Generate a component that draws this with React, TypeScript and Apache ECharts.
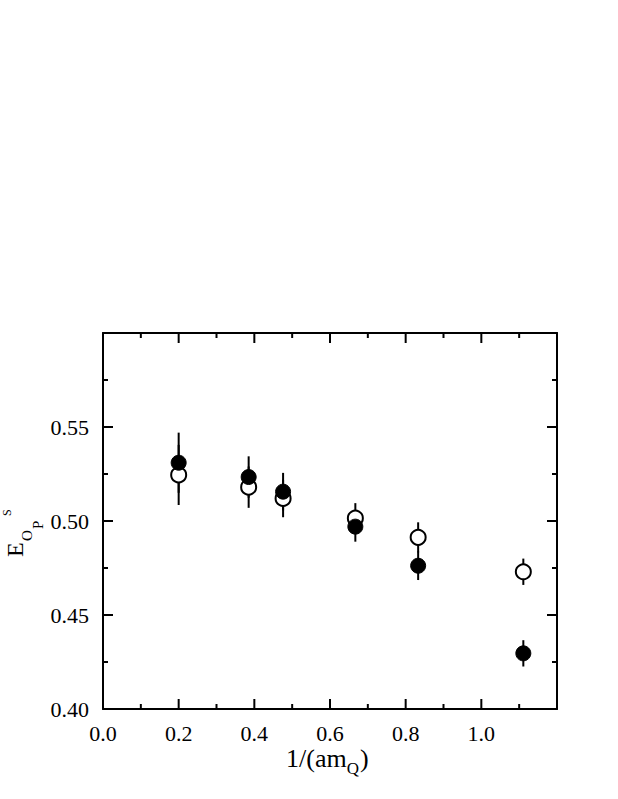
import React, { useEffect, useRef } from "react";
import * as echarts from "echarts";

const invMass = [0.2, 0.385, 0.476, 0.667, 0.833, 1.111];
const openValues = [0.5245, 0.518, 0.512, 0.5015, 0.4913, 0.473];
const openErrors = [0.016, 0.011, 0.01, 0.008, 0.008, 0.007];
const filledValues = [0.531, 0.5234, 0.5156, 0.497, 0.4762, 0.4296];
const filledErrors = [0.016, 0.011, 0.01, 0.008, 0.0076, 0.007];

const xMajorTicks = [0.2, 0.4, 0.6, 0.8, 1.0];
const xMinorTicks = [0.1, 0.3, 0.5, 0.7, 0.9, 1.1];
const yMajorTicks = [0.45, 0.5, 0.55];
const yMinorTicks = [0.425, 0.475, 0.525, 0.575];

const X_MIN = 0;
const X_MAX = 1.2;
const Y_MIN = 0.4;
const Y_MAX = 0.6;

const FONT = "Liberation Serif";
const MAJOR_LEN = 10;
const MINOR_LEN = 5;

function errorSeries(name: string, vals: number[], errs: number[]) {
  return {
    type: "custom",
    name,
    z: 1,
    silent: true,
    data: invMass.map((x, i) => [x, vals[i] - errs[i], vals[i] + errs[i]]),
    renderItem: (params: any, api: any) => {
      const p1 = api.coord([api.value(0), api.value(1)]);
      const p2 = api.coord([api.value(0), api.value(2)]);
      return {
        type: "line",
        shape: { x1: p1[0], y1: p1[1], x2: p2[0], y2: p2[1] },
        style: { stroke: "#000", lineWidth: 2 },
      };
    },
  };
}

const tickStyle = { stroke: "#000", lineWidth: 2 };

export default function App() {
  const ref = useRef<HTMLDivElement>(null);
  useEffect(() => {
    if (!ref.current) return;
    const chart = echarts.init(ref.current, null, { renderer: "svg" });
    const lineStyle = { color: "#000", width: 2 };
    const labelStyle = { fontFamily: FONT, fontSize: 22, color: "#000" };

    const xAxis = (position: string, withLabel: boolean) => ({
      type: "value",
      position,
      min: X_MIN,
      max: X_MAX,
      interval: 0.2,
      axisLine: { show: true, onZero: false, lineStyle },
      axisTick: { show: false },
      splitLine: { show: false },
      axisLabel: withLabel
        ? { show: true, showMaxLabel: false, margin: 13, ...labelStyle, formatter: (v: number) => v.toFixed(1) }
        : { show: false },
    });
    const yAxis = (position: string, withLabel: boolean) => ({
      type: "value",
      position,
      min: Y_MIN,
      max: Y_MAX,
      interval: 0.05,
      axisLine: { show: true, onZero: false, lineStyle },
      axisTick: { show: false },
      splitLine: { show: false },
      axisLabel: withLabel
        ? { show: true, showMaxLabel: false, margin: 14, ...labelStyle, formatter: (v: number) => v.toFixed(2) }
        : { show: false },
    });

    const xTickData = [
      ...xMajorTicks.map((v) => [v, Y_MIN, MAJOR_LEN]),
      ...xMinorTicks.map((v) => [v, Y_MIN, MINOR_LEN]),
    ];
    const yTickData = [
      ...yMajorTicks.map((v) => [X_MIN, v, MAJOR_LEN]),
      ...yMinorTicks.map((v) => [X_MIN, v, MINOR_LEN]),
    ];

    const mid = (baseline: number, size: number) => baseline - 0.34 * size;
    const option: any = {
      animation: false,
      backgroundColor: "#fff",
      grid: { left: 103, right: 61, top: 333, bottom: 90 },
      xAxis: [xAxis("bottom", true), xAxis("top", false)],
      yAxis: [yAxis("left", true), yAxis("right", false)],
      series: [
        {
          type: "custom",
          name: "xTicks",
          silent: true,
          z: 5,
          clip: false,
          encode: { x: 0, y: 1 },
          data: xTickData,
          renderItem: (params: any, api: any) => {
            const v = api.value(0);
            const len = api.value(2);
            const b = api.coord([v, Y_MIN]);
            const t = api.coord([v, Y_MAX]);
            return {
              type: "group",
              children: [
                { type: "line", shape: { x1: b[0], y1: b[1], x2: b[0], y2: b[1] - len }, style: tickStyle },
                { type: "line", shape: { x1: t[0], y1: t[1], x2: t[0], y2: t[1] + len }, style: tickStyle },
              ],
            };
          },
        },
        {
          type: "custom",
          name: "yTicks",
          silent: true,
          z: 5,
          clip: false,
          encode: { x: 0, y: 1 },
          data: yTickData,
          renderItem: (params: any, api: any) => {
            const v = api.value(1);
            const len = api.value(2);
            const l = api.coord([X_MIN, v]);
            const r = api.coord([X_MAX, v]);
            return {
              type: "group",
              children: [
                { type: "line", shape: { x1: l[0], y1: l[1], x2: l[0] + len, y2: l[1] }, style: tickStyle },
                { type: "line", shape: { x1: r[0], y1: r[1], x2: r[0] - len, y2: r[1] }, style: tickStyle },
              ],
            };
          },
        },
        errorSeries("openErr", openValues, openErrors),
        errorSeries("filledErr", filledValues, filledErrors),
        {
          type: "scatter",
          name: "open",
          z: 2,
          symbol: "circle",
          symbolSize: 15,
          itemStyle: { color: "#fff", borderColor: "#000", borderWidth: 2, opacity: 1 },
          data: invMass.map((x, i) => [x, openValues[i]]),
        },
        {
          type: "scatter",
          name: "filled",
          z: 3,
          symbol: "circle",
          symbolSize: 15,
          itemStyle: { color: "#000", borderColor: "#000", borderWidth: 1, opacity: 1 },
          data: invMass.map((x, i) => [x, filledValues[i]]),
        },
      ],
      graphic: [
        {
          type: "text",
          x: 286,
          y: mid(767, 26),
          style: { text: "1/(am", font: `26px ${FONT}`, fill: "#000", verticalAlign: "middle", align: "left" },
        },
        {
          type: "text",
          x: 286 + 2.333 * 26,
          y: mid(774, 17),
          style: { text: "Q", font: `17px ${FONT}`, fill: "#000", verticalAlign: "middle", align: "left" },
        },
        {
          type: "text",
          x: 286 + 2.333 * 26 + 0.722 * 17 + 1,
          y: mid(767, 26),
          style: { text: ")", font: `26px ${FONT}`, fill: "#000", verticalAlign: "middle", align: "left" },
        },
        {
          type: "group",
          x: 23,
          y: 557,
          rotation: Math.PI / 2,
          children: [
            { type: "text", x: 0, y: mid(0, 24), style: { text: "E", font: `24px ${FONT}`, fill: "#000", verticalAlign: "middle", align: "left" } },
            { type: "text", x: 16, y: mid(9, 15), style: { text: "O", font: `15px ${FONT}`, fill: "#000", verticalAlign: "middle", align: "left" } },
            { type: "text", x: 28, y: mid(20, 15), style: { text: "P", font: `15px ${FONT}`, fill: "#000", verticalAlign: "middle", align: "left" } },
            { type: "text", x: 41, y: mid(-12, 12), style: { text: "S", font: `12px ${FONT}`, fill: "#000", verticalAlign: "middle", align: "left" } },
          ],
        },
      ],
    };
    chart.setOption(option);
    return () => chart.dispose();
  }, []);
  return (
    <div
      ref={ref}
      style={{ position: "fixed", left: 0, top: 0, width: 618, height: 799, background: "#fff" }}
    />
  );
}
